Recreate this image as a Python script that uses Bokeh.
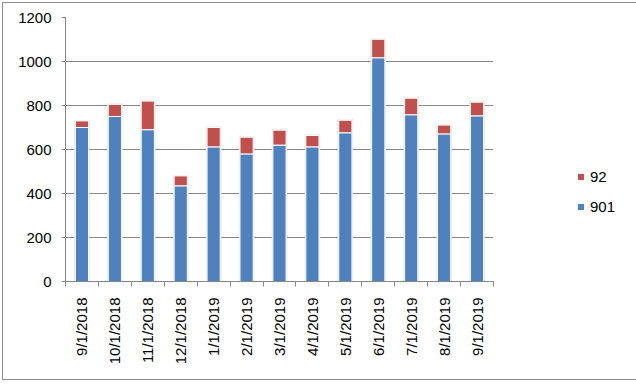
from bokeh.plotting import figure
from bokeh.models import ColumnDataSource, FixedTicker, Legend, LegendItem
from bokeh.embed import file_html
from bokeh.resources import INLINE

dates = ["9/1/2018", "10/1/2018", "11/1/2018", "12/1/2018", "1/1/2019", "2/1/2019",
         "3/1/2019", "4/1/2019", "5/1/2019", "6/1/2019", "7/1/2019", "8/1/2019", "9/1/2019"]
s901 = [700, 750, 690, 435, 612, 580, 620, 612, 676, 1017, 758, 671, 753]
s92 = [30, 55, 130, 45, 88, 76, 68, 52, 57, 84, 75, 40, 62]
y_ticks = [0, 200, 400, 600, 800, 1000, 1200]

BLUE = "#4F81BD"
RED = "#C0504D"
GRID = "#868686"
FONT = "Liberation Sans"

n = len(dates)
xs = [i + 0.5 for i in range(n)]
total = [a + b for a, b in zip(s901, s92)]
src = ColumnDataSource(dict(x=xs, s901=s901, s92=s92, total=total,
                            shadow_top=[t + 4 for t in total]))

p = figure(frame_width=428, frame_height=264, x_range=(0, n), y_range=(0, 1200),
           output_backend="svg", toolbar_location=None,
           min_border_left=62, min_border_top=14, min_border_right=137, min_border_bottom=98)
p.styles = {"border": "1px solid #8c8c8c", "margin-left": "2px", "margin-top": "2px"}
p.outline_line_color = None
p.background_fill_color = "white"
p.border_fill_color = "white"

p.xgrid.grid_line_color = None
p.ygrid.grid_line_color = GRID
p.ygrid.ticker = FixedTicker(ticks=y_ticks)

# shadow
p.vbar(x="x", width=0.47, bottom=0, top="shadow_top", source=src,
       fill_color="#e4e4e4", line_color=None)
blue = p.vbar(x="x", width=0.4, bottom=0, top="s901", source=src,
              fill_color=BLUE, line_color="white", line_width=1)
red = p.vbar(x="x", width=0.4, bottom="s901", top="total", source=src,
             fill_color=RED, line_color="white", line_width=1)

# y axis
ya = p.yaxis[0]
ya.ticker = FixedTicker(ticks=y_ticks)
ya.axis_line_color = GRID
ya.major_tick_line_color = GRID
ya.major_tick_out = 4
ya.major_tick_in = 0
ya.minor_tick_line_color = None
ya.major_label_text_font = FONT
ya.major_label_text_font_size = "15px"
ya.major_label_text_color = "black"
ya.major_label_standoff = 10

# x axis
xa = p.xaxis[0]
xa.ticker = FixedTicker(ticks=xs, minor_ticks=list(range(n + 1)))
xa.major_label_overrides = {x: d for x, d in zip(xs, dates)}
xa.major_label_orientation = 3.14159265 / 2
xa.axis_line_color = GRID
xa.major_tick_line_color = None
xa.major_tick_out = 0
xa.major_tick_in = 0
xa.minor_tick_line_color = GRID
xa.minor_tick_out = 5
xa.minor_tick_in = 0
xa.major_label_text_font = FONT
xa.major_label_text_font_size = "15px"
xa.major_label_text_color = "black"
xa.major_label_standoff = 11

legend = Legend(items=[LegendItem(label="92", renderers=[red]),
                       LegendItem(label="901", renderers=[blue])],
                location=(83, 65), glyph_width=9, glyph_height=9,
                label_standoff=5, label_height=20, spacing=10,
                padding=0, margin=0, border_line_color=None,
                background_fill_alpha=0,
                label_text_font=FONT, label_text_font_size="15px",
                label_text_color="black")
p.add_layout(legend, "right")

open("out.html", "w").write(file_html(p, INLINE))
